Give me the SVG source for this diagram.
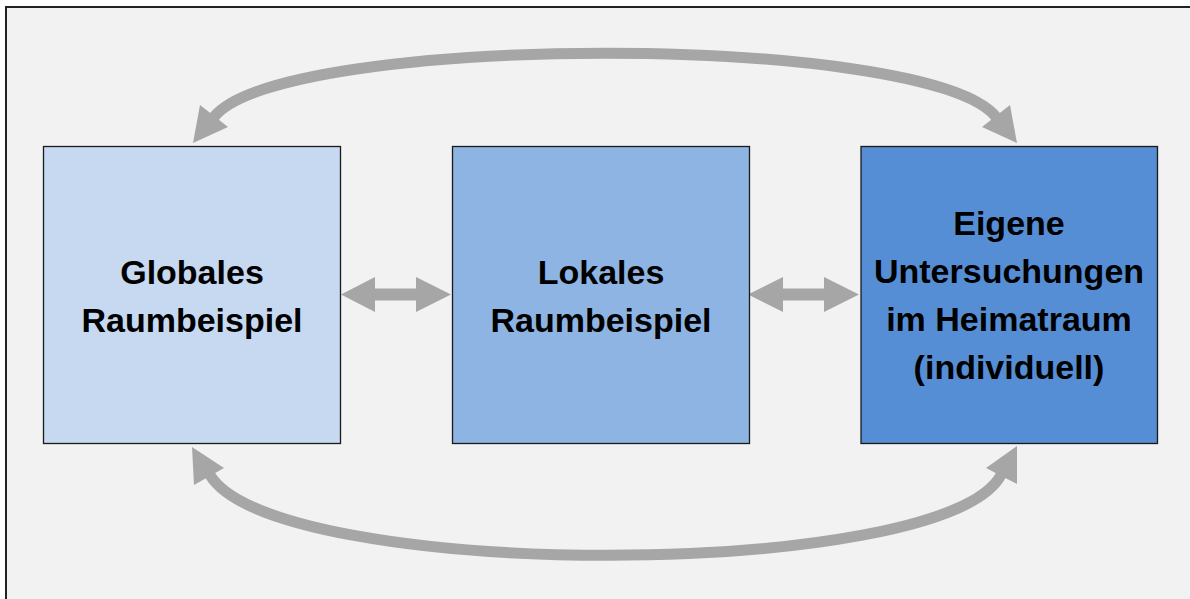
<svg xmlns="http://www.w3.org/2000/svg" width="1190" height="599" viewBox="0 0 1190 599">
  <style>
    .node rect { stroke: #1a1a1a; stroke-width: 1.3; }
    .label { font-family: "Liberation Sans", Arial, sans-serif; font-weight: bold; font-size: 34px; fill: #000; text-anchor: middle; }
    .shaft { fill: none; stroke: #A6A6A6; stroke-width: 11; }
    .head { fill: #A6A6A6; stroke: none; }
  </style>
  <rect x="0" y="0" width="1190" height="599" fill="#ffffff"/>
  <rect id="frame" x="6" y="7" width="1200" height="700" fill="#F2F2F2" stroke="#222222" stroke-width="2"/>

  <g id="connectors">
    <path class="shaft" d="M 214 117 C 281 32, 929 32, 996 117"/>
    <polygon class="head" points="193,143 200,105 228,127"/>
    <polygon class="head" points="1017,143 1010,105 982,127"/>
    <path class="shaft" d="M 210 475 C 274 582, 944 582, 1001 475"/>
    <polygon class="head" points="192,447 194,485 224,468"/>
    <polygon class="head" points="1017,446 1017,484 986,468"/>
    <polygon class="head" points="341,294.5 375,277 375,288.5 416,288.5 416,277 451,294.5 416,312 416,300.5 375,300.5 375,312"/>
    <polygon class="head" points="748,294.5 783,277 783,288.5 824,288.5 824,277 859,294.5 824,312 824,300.5 783,300.5 783,312"/>
  </g>

  <g id="node-global" class="node">
    <rect x="43.5" y="146.5" width="297" height="297" fill="#C6D9F1"/>
    <text class="label" x="192" y="284">Globales</text>
    <text class="label" x="192" y="332">Raumbeispiel</text>
  </g>
  <g id="node-lokal" class="node">
    <rect x="452.5" y="146.5" width="297" height="297" fill="#8EB4E3"/>
    <text class="label" x="601" y="284">Lokales</text>
    <text class="label" x="601" y="332">Raumbeispiel</text>
  </g>
  <g id="node-eigene" class="node">
    <rect x="861" y="146.5" width="296.5" height="297" fill="#558ED5"/>
    <text class="label" x="1009" y="235">Eigene</text>
    <text class="label" x="1009" y="283">Untersuchungen</text>
    <text class="label" x="1009" y="331">im Heimatraum</text>
    <text class="label" x="1009" y="379">(individuell)</text>
  </g>
</svg>
